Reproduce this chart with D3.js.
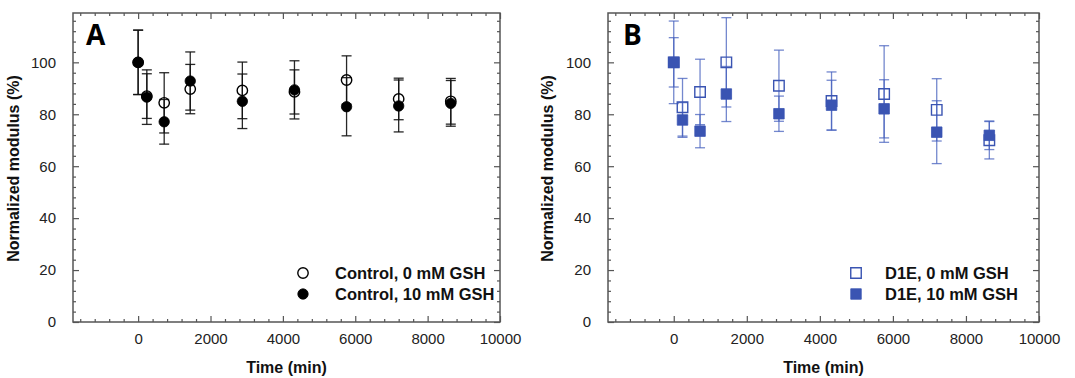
<!DOCTYPE html>
<html>
<head>
<meta charset="utf-8">
<script src="https://cdn.jsdelivr.net/npm/d3@7"></script>
<style>
  body { margin: 0; background: #fff; }
  svg { display: block; font-family: "Liberation Sans", Arial, sans-serif; }
</style>
</head>
<body>
<svg id="chart" width="1075" height="378"></svg>
<script>
// sampling times (min)
const times = [0, 240, 720, 1440, 2880, 4320, 5760, 7200, 8640];

// panel A: control gels
const ctrl0 = [100, 87.0, 84.4, 89.7, 89.2, 88.6, 93.2, 85.9, 85.0];
const ctrl0Err = [12.4, 8.6, 11.6, 9.5, 10.9, 8.5, 9.3, 8.0, 8.8];
const ctrl10 = [100, 86.6, 77.1, 92.8, 85.0, 89.4, 82.9, 83.2, 84.2];
const ctrl10Err = [12.4, 10.5, 8.6, 11.2, 10.5, 11.2, 11.2, 10.0, 8.8];

// panel B: D1E gels
const d1e0 = [100, 82.7, 88.6, 100, 91.0, 85.1, 87.8, 81.7, 70.0];
const d1e0Err = [9.5, 11.1, 12.6, 17.2, 13.7, 11.2, 18.6, 12.0, 7.2];
const d1e10 = [100, 77.8, 73.5, 87.8, 80.2, 83.5, 82.1, 73.1, 71.9];
const d1e10Err = [15.9, 6.7, 6.4, 10.6, 6.8, 9.6, 11.2, 12.1, 5.5];

const xTicks = [0, 2000, 4000, 6000, 8000, 10000];
const yTicks = [0, 20, 40, 60, 80, 100];

const svg = d3.select('#chart');

const H = 309;

function drawPanel(cfg) {
  const W = cfg.width;
  const g = svg.append('g').attr('transform', `translate(${cfg.left},13)`);

  const x = d3.scaleLinear().domain([-1800, 10000]).range([0, W]);
  const y = d3.scaleLinear().domain([0, 119]).range([H, 0]);

  const minorX = d3.range(-1600, 10001, 400).filter(v => v % 2000 !== 0);
  const minorY = d3.range(4, 119, 4).filter(v => v % 20 !== 0);

  // minor ticks, all four sides, pointing inward
  g.append('g').attr('transform', `translate(0,${H})`)
    .call(d3.axisBottom(x).tickValues(minorX).tickSize(-3).tickFormat(''));
  g.append('g')
    .call(d3.axisTop(x).tickValues(minorX).tickSize(-3).tickFormat(''));
  g.append('g')
    .call(d3.axisLeft(y).tickValues(minorY).tickSize(-3).tickFormat(''));
  g.append('g').attr('transform', `translate(${W},0)`)
    .call(d3.axisRight(y).tickValues(minorY).tickSize(-3).tickFormat(''));

  // major ticks
  g.append('g').attr('class', 'lab').attr('transform', `translate(0,${H})`)
    .call(d3.axisBottom(x).tickValues(xTicks).tickSize(-6).tickPadding(11).tickFormat(d3.format('d')));
  g.append('g')
    .call(d3.axisTop(x).tickValues(xTicks).tickSize(-6).tickFormat(''));
  g.append('g').attr('class', 'lab')
    .call(d3.axisLeft(y).tickValues(yTicks).tickSize(-6).tickPadding(17).tickFormat(d3.format('d')));
  g.append('g').attr('transform', `translate(${W},0)`)
    .call(d3.axisRight(y).tickValues(yTicks).tickSize(-6).tickFormat(''));

  g.selectAll('.domain').remove();
  g.selectAll('.tick line').attr('stroke', '#555').attr('stroke-width', 1.2);
  g.selectAll('.lab text').attr('font-size', 15).attr('fill', '#222')
    .attr('font-family', '"Liberation Sans", Arial, sans-serif');

  g.append('rect').attr('width', W).attr('height', H)
    .attr('fill', 'none').attr('stroke', '#555').attr('stroke-width', 1.5);

  // error bars
  cfg.series.forEach(s => {
    const eb = g.append('g').attr('stroke', cfg.barColor).attr('stroke-width', 1.3)
      .attr('stroke-opacity', cfg.barOpacity);
    times.forEach((t, i) => {
      const cx = x(t), hi = y(s.values[i] + s.err[i]), lo = y(s.values[i] - s.err[i]);
      eb.append('line').attr('x1', cx).attr('x2', cx).attr('y1', hi).attr('y2', lo);
      eb.append('line').attr('x1', cx - 5).attr('x2', cx + 5).attr('y1', hi).attr('y2', hi);
      eb.append('line').attr('x1', cx - 5).attr('x2', cx + 5).attr('y1', lo).attr('y2', lo);
    });
  });

  // markers
  cfg.series.forEach(s => {
    g.append('g').selectAll('path')
      .data(times.map((t, i) => [t, s.values[i]]))
      .join('path')
        .attr('transform', d => `translate(${x(d[0])},${y(d[1])})`)
        .attr('d', cfg.shape)
        .attr('fill', s.filled ? cfg.color : 'none')
        .attr('stroke', cfg.color)
        .attr('stroke-width', s.filled ? 0.8 : 1.4);
  });

  // legend
  const leg = g.append('g');
  cfg.series.forEach((s, i) => {
    const ly = 260 + i * 21;
    leg.append('path')
      .attr('transform', `translate(${cfg.legX},${ly})`)
      .attr('d', cfg.shape)
      .attr('fill', s.filled ? cfg.color : 'none')
      .attr('stroke', cfg.color)
      .attr('stroke-width', s.filled ? 0.8 : 1.4);
    leg.append('text')
      .attr('x', cfg.legX + cfg.legGap).attr('y', ly + 6)
      .attr('font-size', 16.5).attr('font-weight', 'bold').attr('fill', '#111')
      .text(s.name);
  });

  // panel letter
  g.append('text').attr('x', cfg.letterX).attr('y', 32)
    .attr('font-family', '"Open Sans", sans-serif').attr('font-weight', 'bold')
    .attr('font-size', 28).attr('fill', '#000').text(cfg.letter);

  // axis titles
  g.append('text').attr('x', W / 2).attr('y', 360)
    .attr('text-anchor', 'middle').attr('font-size', 16).attr('font-weight', 'bold')
    .attr('fill', '#111').text('Time (min)');
  g.append('text')
    .attr('transform', `translate(${cfg.titleX},${H / 2 + 1}) rotate(-90)`)
    .attr('text-anchor', 'middle').attr('font-size', 16).attr('font-weight', 'bold')
    .attr('fill', '#111').text('Normalized modulus (%)');
}

const circle = d3.symbol().type(d3.symbolCircle).size(Math.PI * 5.2 * 5.2);
const square = d3.symbol().type(d3.symbolSquare).size(10.5 * 10.5);

drawPanel({
  left: 73, width: 427, letter: 'A', letterX: 13, titleX: -54, legX: 230, legGap: 32,
  color: '#000', barColor: '#111', barOpacity: 0.9, shape: circle,
  series: [
    { name: 'Control, 0 mM GSH', values: ctrl0, err: ctrl0Err, filled: false },
    { name: 'Control, 10 mM GSH', values: ctrl10, err: ctrl10Err, filled: true }
  ]
});

drawPanel({
  left: 608, width: 431, letter: 'B', letterX: 15, titleX: -55, legX: 248, legGap: 29,
  color: '#3a54b2', barColor: '#4660be', barOpacity: 0.75, shape: square,
  series: [
    { name: 'D1E, 0 mM GSH', values: d1e0, err: d1e0Err, filled: false },
    { name: 'D1E, 10 mM GSH', values: d1e10, err: d1e10Err, filled: true }
  ]
});
</script>
</body>
</html>
